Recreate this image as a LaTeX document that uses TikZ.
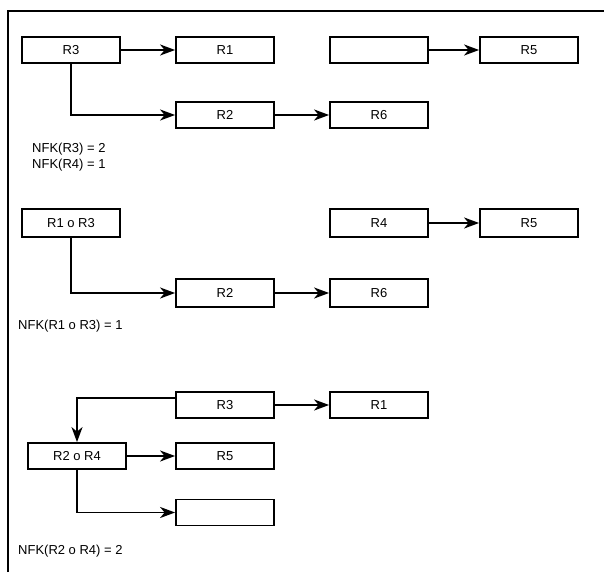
\documentclass[tikz,border=0pt]{standalone}
\usepackage{fontspec}
\setmainfont{Liberation Sans}
\usetikzlibrary{arrows.meta}
\begin{document}
\begin{tikzpicture}[x=1pt,y=-1pt,
  box/.style={draw, line width=1.8pt, minimum width=98pt, minimum height=26pt, inner sep=0pt, font=\fontsize{13pt}{15pt}\selectfont},
  tall/.style={minimum height=28pt},
  conn/.style={line width=1.8pt, -{Stealth[length=15pt,width=11pt,inset=4.5pt]}},
  lbl/.style={anchor=west, inner sep=0pt, font=\fontsize{13pt}{15pt}\selectfont}]
\useasboundingbox (0,0) rectangle (604,572);
\draw[line width=1.8pt] (8,572) -- (8,11) -- (604,11);
% row 1
\node[box] (a3) at (71,50) {R3};
\node[box] (a1) at (225,50) {R1};
\node[box] (ae) at (379,50) {};
\node[box] (a5) at (529,50) {R5};
\node[box] (a2) at (225,115) {R2};
\node[box] (a6) at (379,115) {R6};
\draw[conn] (a3) -- (a1);
\draw[conn] (ae) -- (a5);
\draw[conn] (a3.south) |- (a2.west);
\draw[conn] (a2) -- (a6);
\node[lbl] (t1) at (32,149) {NFK(R3) = 2};
\node[lbl] (t2) at (32,165) {NFK(R4) = 1};
% row 2
\node[box,tall] (b13) at (71,223) {R1 o R3};
\node[box,tall] (b4) at (379,223) {R4};
\node[box,tall] (b5) at (529,223) {R5};
\node[box,tall] (b2) at (225,293) {R2};
\node[box,tall] (b6) at (379,293) {R6};
\draw[conn] (b4) -- (b5);
\draw[conn] (b13.south) |- (b2.west);
\draw[conn] (b2) -- (b6);
\node[lbl] (t3) at (18,326) {NFK(R1 o R3) = 1};
% row 3
\node[box] (c3) at (225,405) {R3};
\node[box] (c1) at (379,405) {R1};
\node[box] (c24) at (77,456) {R2 o R4};
\node[box] (c5) at (225,456) {R5};
\node[box] (ce) at (225,512.5) {};
\draw[conn] (c3) -- (c1);
\draw[conn] ([yshift=7pt]c3.west) -| (c24.north);
\draw[conn] (c24) -- (c5);
\draw[conn] (c24.south) |- (ce.west);
\node[lbl] (t4) at (18,551) {NFK(R2 o R4) = 2};
\end{tikzpicture}
\end{document}
